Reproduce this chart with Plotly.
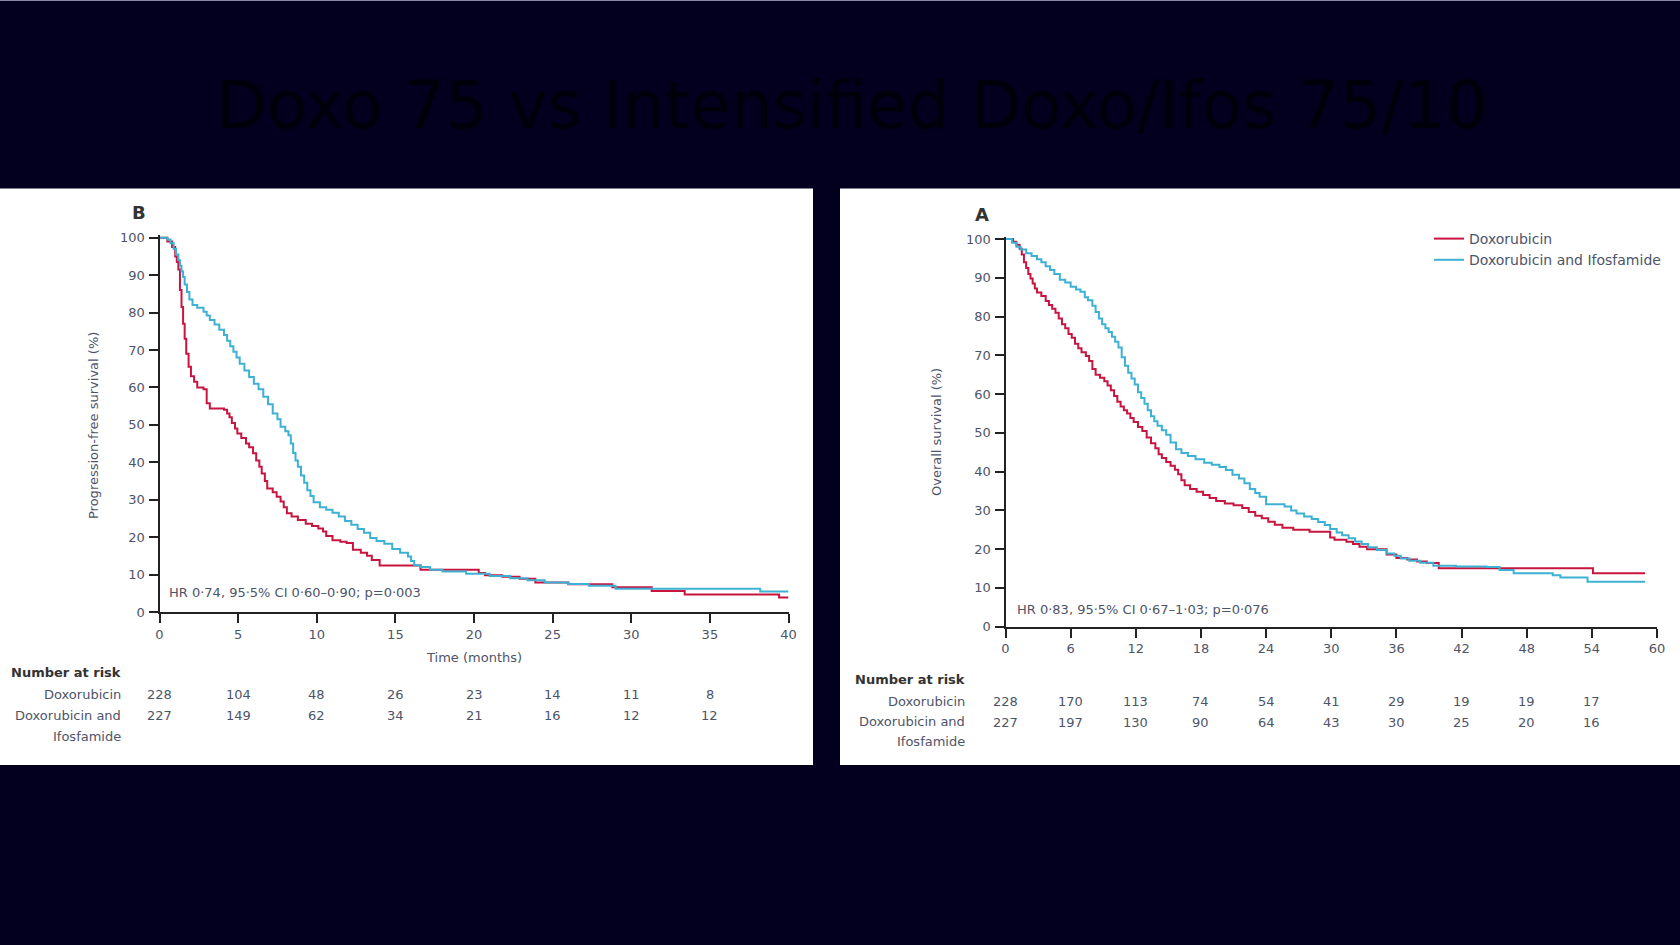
import plotly.graph_objects as go

W, H = 1680, 945

# ---------------- data ----------------
title_text = "Doxo 75 vs Intensified Doxo/Ifos 75/10"
series_names = ["Doxorubicin", "Doxorubicin and Ifosfamide"]

# Progression-free survival (panel B)
t_pfs_dox = [0, 0.5, 0.8, 1.0, 1.1, 1.2, 1.3, 1.4, 1.5, 1.6, 1.7, 1.85, 2.0, 2.2, 2.4, 2.8, 3.0, 3.2,
             4.1, 4.3, 4.45, 4.6, 4.8, 4.95, 5.2, 5.5, 5.7, 5.95, 6.15, 6.35, 6.5, 6.7, 6.85, 7.2, 7.45,
             7.7, 7.9, 8.1, 8.4, 8.8, 9.3, 9.7, 10.1, 10.4, 10.6, 11.0, 11.5, 11.9, 12.3, 12.8, 13.2,
             13.5, 14.0, 16.6, 20.3, 20.7, 21.8, 22.9, 23.9, 26.0, 28.8, 31.3, 33.4, 39.4, 40]
s_pfs_dox = [100, 99, 97.5, 95, 93.5, 91.5, 86, 81.5, 77, 73, 69, 65.5, 63, 61.5, 60, 59.5, 55.8, 54.4,
             54, 53, 52, 50.5, 49, 47.7, 46.5, 45, 44, 42.4, 40.5, 38.8, 37, 35, 33, 32, 30.8,
             29.5, 28, 26.4, 25.5, 24.6, 23.6, 23.0, 22.3, 21.5, 20.3, 19.2, 18.8, 18.4, 16.6, 15.8, 15.0,
             13.9, 12.4, 11.3, 10.4, 9.8, 9.4, 8.9, 7.9, 7.4, 6.6, 5.6, 4.7, 3.9, 3.9]

t_pfs_combo = [0, 0.5, 0.7, 0.9, 1.05, 1.2, 1.3, 1.4, 1.5, 1.6, 1.75, 1.9, 2.1, 2.4, 2.8, 3.0, 3.2, 3.5,
               3.8, 4.1, 4.3, 4.5, 4.7, 4.9, 5.1, 5.4, 5.7, 6.0, 6.3, 6.6, 6.9, 7.2, 7.5, 7.7, 8.0, 8.2,
               8.35, 8.5, 8.65, 8.8, 9.0, 9.2, 9.4, 9.6, 9.8, 10.2, 10.6, 11.0, 11.4, 11.8, 12.2, 12.6,
               13.0, 13.4, 13.8, 14.3, 14.8, 15.3, 15.8, 16.0, 16.2, 16.6, 17.2, 18.0, 19.5, 21.0, 22.3,
               23.4, 24.5, 26.0, 27.3, 29.0, 38.2, 40]
s_pfs_combo = [100, 99.5, 98.5, 97, 95.5, 94, 92.5, 91, 89.5, 87.5, 85.5, 83.5, 82, 81.3, 80.2, 79.2, 78, 76.8,
               75.4, 74, 72.5, 71, 69.5, 68, 66.3, 64.5, 62.8, 61, 59.5, 57.5, 55.5, 53, 51.5, 49.5, 48.3, 47.2,
               45, 42.5, 40.5, 38.8, 36.5, 34.5, 32.5, 31, 29.3, 28, 27.3, 26.5, 25.5, 24.3, 23.3, 22.2,
               21.2, 19.8, 19, 18.2, 16.8, 15.8, 14.8, 13.6, 12.5, 12, 11.3, 10.8, 10.2, 9.6, 9.0,
               8.5, 7.9, 7.5, 7.0, 6.2, 5.5, 5.5]

# Overall survival (panel A)
t_os_dox = [0, 0.7, 1.0, 1.3, 1.5, 1.7, 1.9, 2.1, 2.3, 2.5, 2.7, 2.9, 3.3, 3.7, 4.0, 4.3, 4.6, 4.9, 5.2,
            5.5, 5.8, 6.1, 6.4, 6.7, 7.0, 7.4, 7.7, 8.0, 8.3, 8.7, 9.1, 9.4, 9.7, 10.0, 10.3, 10.6, 10.9,
            11.2, 11.5, 11.8, 12.2, 12.6,
            13.0, 13.4, 13.8, 14.1, 14.4, 14.8, 15.2, 15.6, 15.9, 16.2, 16.5, 17.0, 17.6, 18.2, 18.8,
            19.4, 20.2, 21.0, 21.8, 22.4, 23.0, 23.6, 24.2, 24.8, 25.5, 26.5, 28.0, 29.9, 30.3, 31.4,
            32.0, 32.6, 33.3, 35.1, 36.0, 37.0, 37.9, 38.8, 39.9, 54.1, 58.9]
s_os_dox = [100, 99.3, 98.5, 97.5, 96, 94, 92.5, 91, 89.8, 88.5, 87.2, 86.2, 85.3, 84, 83, 82, 81, 79.5, 78,
            77, 75.5, 74.5, 73, 71.8, 70.8, 69.8, 68.5, 66.5, 65, 64.2, 63.3, 62.2, 61, 59.5, 58, 56.8, 55.8,
            55, 53.8, 52.8, 51.5, 50.5,
            48.8, 47.3, 46, 44.5, 43.5, 42.5, 41.5, 40.5, 39.3, 37.8, 36.5, 35.5, 34.8, 34.0, 33.2,
            32.4, 31.8, 31.3, 30.6, 29.6, 28.6, 28.0, 27.1, 26.3, 25.5, 25.0, 24.5, 23.0, 22.4, 21.9,
            21.3, 20.6, 20.0, 18.6, 17.7, 17.3, 16.8, 16.4, 15.1, 13.8, 13.8]

t_os_combo = [0, 0.6, 1.0, 1.4, 1.9, 2.4, 2.9, 3.3, 3.7, 4.1, 4.5, 5.0, 5.5, 6.0, 6.5, 6.9, 7.3, 7.6, 8.0,
              8.3, 8.6, 8.9, 9.2, 9.5, 9.8, 10.1, 10.4, 10.7, 11.0, 11.3, 11.6, 11.9, 12.2, 12.5, 12.8,
              13.1, 13.4, 13.7, 14.0, 14.4, 14.8, 15.2, 15.7, 16.2, 16.8, 17.5, 18.3, 19.0, 19.7, 20.3,
              20.9, 21.5, 22.0, 22.5, 23.0, 23.4, 24.0, 25.7, 26.3, 26.8, 27.5, 28.2, 28.8, 29.4, 29.9,
              30.5, 31.0, 31.6, 32.2, 32.8, 33.4, 34.2, 35.1, 35.8, 36.4, 37.2, 38.2, 39.4, 41.5, 44.3,
              45.5, 46.8, 50.4, 51.1, 53.6, 58.9]
s_os_combo = [100, 99, 98, 97.3, 96.3, 95.6, 94.8, 94, 93, 92, 91, 89.5, 88.8, 87.7, 87, 86.4, 85, 84.2, 82.8,
              81.2, 79.5, 78, 77, 76, 74.8, 73.5, 72, 69.5, 67.3, 65.5, 64, 62.5, 60.5, 59, 57.5,
              55.8, 54.3, 53, 51.8, 50.7, 49.5, 47.5, 45.8, 44.8, 44.0, 43.2, 42.3, 41.8, 41.2, 40.4,
              39.2, 38.2, 37, 35.5, 34.5, 33.5, 31.6, 31, 30, 29.2, 28.4, 27.8, 27.0, 26.2, 25.2,
              24.3, 23.6, 22.8, 22.0, 21.3, 20.5, 19.8, 18.9, 18.3, 17.6, 17.0, 16.5, 15.7, 15.5, 15.4,
              14.6, 13.8, 13.3, 12.7, 11.6, 11.6]

# axis ticks and numbers at risk
pfs_ticks = [0, 5, 10, 15, 20, 25, 30, 35, 40]
os_ticks = [0, 6, 12, 18, 24, 30, 36, 42, 48, 54, 60]
y_ticks = [0, 10, 20, 30, 40, 50, 60, 70, 80, 90, 100]
pfs_risk_times = [0, 5, 10, 15, 20, 25, 30, 35]
pfs_risk_dox = [228, 104, 48, 26, 23, 14, 11, 8]
pfs_risk_combo = [227, 149, 62, 34, 21, 16, 12, 12]
os_risk_times = [0, 6, 12, 18, 24, 30, 36, 42, 48, 54]
os_risk_dox = [228, 170, 113, 74, 54, 41, 29, 19, 19, 17]
os_risk_combo = [227, 197, 130, 90, 64, 43, 30, 25, 20, 16]

pfs_hr = "HR 0·74, 95·5% CI 0·60–0·90; p=0·003"
os_hr = "HR 0·83, 95·5% CI 0·67–1·03; p=0·076"

# ---------------- styling ----------------
BG = "#03001f"
RED = "#c8143f"
BLUE = "#3cb1d3"
AX = "#222222"
TXT = "#4e5468"
DARK = "#333333"
FONT = "DejaVu Sans"


def px(x):
    return x / W


def py(y):
    return 1 - y / H


fig = go.Figure()

fig.add_trace(go.Scatter(x=t_pfs_dox, y=s_pfs_dox, mode="lines", xaxis="x", yaxis="y",
                         line=dict(color=RED, width=2, shape="hv"), showlegend=False,
                         name=series_names[0]))
fig.add_trace(go.Scatter(x=t_pfs_combo, y=s_pfs_combo, mode="lines", xaxis="x", yaxis="y",
                         line=dict(color=BLUE, width=2, shape="hv"), showlegend=False,
                         name=series_names[1]))
fig.add_trace(go.Scatter(x=t_os_dox, y=s_os_dox, mode="lines", xaxis="x2", yaxis="y2",
                         line=dict(color=RED, width=2, shape="hv"), showlegend=True,
                         name=series_names[0]))
fig.add_trace(go.Scatter(x=t_os_combo, y=s_os_combo, mode="lines", xaxis="x2", yaxis="y2",
                         line=dict(color=BLUE, width=2, shape="hv"), showlegend=True,
                         name=series_names[1]))

axis_common = dict(showgrid=False, zeroline=False, showline=True, linecolor=AX, linewidth=2,
                   ticks="outside", ticklen=9, tickwidth=1.6, tickcolor=AX, automargin=False,
                   tickfont=dict(family=FONT, size=13, color=TXT))

ytop_extra = 0.6
fig.update_layout(
    xaxis=dict(domain=[px(159.5), px(788.5)], range=[0, 40], tickvals=pfs_ticks, anchor="y",
               ticklabelstandoff=0, **axis_common),
    yaxis=dict(domain=[py(612), py(237.7 - ytop_extra * 3.743)], range=[0, 100 + ytop_extra],
               tickvals=y_ticks, anchor="x", ticklabelstandoff=1, **axis_common),
    xaxis2=dict(domain=[px(1005.5), px(1657)], range=[0, 60], tickvals=os_ticks, anchor="y2",
                ticklabelstandoff=0, **axis_common),
    yaxis2=dict(domain=[py(626.7), py(239 - ytop_extra * 3.877)], range=[0, 100 + ytop_extra],
                tickvals=y_ticks, anchor="x2", ticklabelstandoff=1, **axis_common),
)

shapes = [
    dict(type="rect", xref="paper", yref="paper", x0=px(0), x1=px(813), y0=py(765), y1=py(188.5),
         fillcolor="white", line=dict(width=0), layer="below"),
    dict(type="rect", xref="paper", yref="paper", x0=px(840), x1=px(1680), y0=py(765), y1=py(188.5),
         fillcolor="white", line=dict(width=0), layer="below"),
    dict(type="line", xref="paper", yref="paper", x0=0, x1=1, y0=py(0.5), y1=py(0.5),
         line=dict(color="#8a88a8", width=1)),
]


def note(text, x, y, xref="paper", yref="paper", size=13, color=TXT, xanchor="center",
         yanchor="middle", angle=0, family=FONT):
    return dict(text=text, x=x, y=y, xref=xref, yref=yref, showarrow=False, textangle=angle,
                xanchor=xanchor, yanchor=yanchor, font=dict(family=family, size=size, color=color))


ann = []
# title (dark text on dark background)
ann.append(note(title_text, px(852), py(105), size=66, color="#00000a"))
# panel letters
ann.append(note("<b>B</b>", px(139), py(213), size=18, color=DARK))
ann.append(note("<b>A</b>", px(982), py(215), size=18, color=DARK))
# y axis titles
ann.append(note("Progression-free survival (%)", px(94), py(426), angle=-90))
ann.append(note("Overall survival (%)", px(937), py(432), angle=-90))
# x axis title (left)
ann.append(note("Time (months)", 20, py(657), xref="x"))
# HR texts
ann.append(note(pfs_hr, 0.5, 5.2, xref="x", yref="y", xanchor="left"))
ann.append(note(os_hr, 0.9, 4.4, xref="x2", yref="y2", xanchor="left"))


def risk_labels(xr, rows_y):
    out = []
    labels = ["<b>Number at risk</b>", "Doxorubicin", "Doxorubicin and", "Ifosfamide"]
    cols = [DARK, TXT, TXT, TXT]
    for lab, yy, c in zip(labels, rows_y, cols):
        out.append(note(lab, px(xr), py(yy), color=c, xanchor="right"))
    return out


ann += risk_labels(123, [672, 694, 715, 736])
ann += risk_labels(967, [679, 701, 721, 741])

for t, v in zip(pfs_risk_times, pfs_risk_dox):
    ann.append(note(str(v), t, py(694), xref="x"))
for t, v in zip(pfs_risk_times, pfs_risk_combo):
    ann.append(note(str(v), t, py(715), xref="x"))
for t, v in zip(os_risk_times, os_risk_dox):
    ann.append(note(str(v), t, py(701), xref="x2"))
for t, v in zip(os_risk_times, os_risk_combo):
    ann.append(note(str(v), t, py(722), xref="x2"))

fig.update_layout(
    width=W, height=H, margin=dict(l=0, r=0, t=0, b=0, pad=0, autoexpand=False),
    paper_bgcolor=BG, plot_bgcolor="white",
    shapes=shapes, annotations=ann,
    legend=dict(x=px(1429), y=py(223), xanchor="left", yanchor="top", bgcolor="rgba(0,0,0,0)",
                font=dict(family=FONT, size=14, color=TXT), itemwidth=30, tracegroupgap=0),
)

post = (
    "document.documentElement.style.margin='0';"
    "document.documentElement.style.padding='0';"
    "document.documentElement.style.overflow='hidden';"
    "document.body.style.margin='0';"
    "document.body.style.padding='0';"
    "document.body.style.overflow='hidden';"
    "var gds=document.getElementsByClassName('plotly-graph-div');"
    "for(var i=0;i<gds.length;i++){gds[i].style.position='fixed';gds[i].style.left='0px';"
    "gds[i].style.top='0px';}"
)

fig.write_html("out.html", config={"displayModeBar": False}, post_script=post)
